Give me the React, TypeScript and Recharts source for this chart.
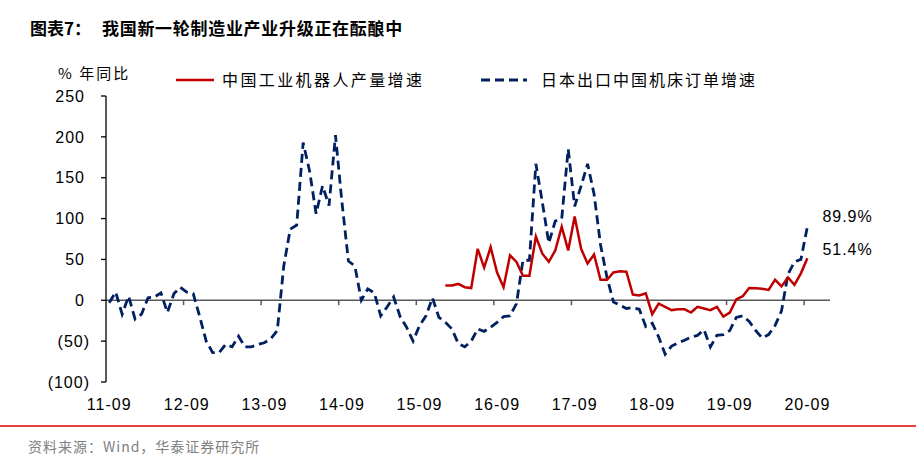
import React from 'react';
import { LineChart, Line, XAxis, YAxis, ReferenceLine, Legend } from 'recharts';

const MONTHS: string[] = [
  '2011-09', '2011-10', '2011-11', '2011-12',
  '2012-01', '2012-02', '2012-03', '2012-04', '2012-05', '2012-06', '2012-07', '2012-08', '2012-09', '2012-10', '2012-11', '2012-12',
  '2013-01', '2013-02', '2013-03', '2013-04', '2013-05', '2013-06', '2013-07', '2013-08', '2013-09', '2013-10', '2013-11', '2013-12',
  '2014-01', '2014-02', '2014-03', '2014-04', '2014-05', '2014-06', '2014-07', '2014-08', '2014-09', '2014-10', '2014-11', '2014-12',
  '2015-01', '2015-02', '2015-03', '2015-04', '2015-05', '2015-06', '2015-07', '2015-08', '2015-09', '2015-10', '2015-11', '2015-12',
  '2016-01', '2016-02', '2016-03', '2016-04', '2016-05', '2016-06', '2016-07', '2016-08', '2016-09', '2016-10', '2016-11', '2016-12',
  '2017-01', '2017-02', '2017-03', '2017-04', '2017-05', '2017-06', '2017-07', '2017-08', '2017-09', '2017-10', '2017-11', '2017-12',
  '2018-01', '2018-02', '2018-03', '2018-04', '2018-05', '2018-06', '2018-07', '2018-08', '2018-09', '2018-10', '2018-11', '2018-12',
  '2019-01', '2019-02', '2019-03', '2019-04', '2019-05', '2019-06', '2019-07', '2019-08', '2019-09', '2019-10', '2019-11', '2019-12',
  '2020-01', '2020-02', '2020-03', '2020-04', '2020-05', '2020-06', '2020-07', '2020-08', '2020-09', '2020-10', '2020-11', '2020-12',
];

// 中国工业机器人产量增速 (% YoY), from 2016-01
const ROBOT_OUTPUT_YOY: (number | null)[] = [
  null, null, null, null, null, null, null, null, null, null, null, null, null, null, null, null,
  null, null, null, null, null, null, null, null, null, null, null, null, null, null, null, null,
  null, null, null, null, null, null, null, null, null, null, null, null, null, null, null, null,
  null, null, null, null,
  18, 18, 20, 16, 15, 63, 40, 65, 34, 16, 55, 47,
  30, 30, 78, 57, 47, 61, 90, 61, 102.5, 63, 45, 56,
  25, 25, 34, 35.5, 35, 7, 6, 8.6, -17, -4, -8, -12,
  -11, -11, -15, -8, -10, -12, -8, -20, -15, 1, 5, 15,
  14.7, 14, 12.7, 25, 17, 28, 19, 33, 51.4,
  null, null, null,
];

// 日本出口中国机床订单增速 (% YoY), from 2011-09
const JP_TOOL_ORDERS_YOY: (number | null)[] = [
  -3, 10, -17, 5,
  -23, -17, 3, 4, 9, -15, 8, 16, 10, 8, -20, -50,
  -64, -64, -54, -57, -44, -57, -57, -54, -52, -47, -37, 42,
  87, 92, 193, 158, 106, 140, 116, 202, 120, 48, 42, 0,
  14, 9, -19, -8, 4, -20, -33, -50, -31, -19, 3, -21,
  -27, -35, -53, -57, -50, -35, -38, -33, -27, -20, -19, -4,
  49, 49, 167, 120, 70, 97, 100, 185, 115, 140, 167, 130,
  68, 28, -2, -6, -10, -9, -11, -32, -28, -45, -66, -56,
  -52, -49, -45, -43, -36, -57, -43, -42, -37, -21, -19, -26,
  -37, -46, -42, -31, -13, 32, 47, 50, 89.9,
  null, null, null,
];

const TICK_MONTHS: string[] = ['2011-09', '2012-09', '2013-09', '2014-09', '2015-09', '2016-09', '2017-09', '2018-09', '2019-09', '2020-09'];
const Y_TICKS: number[] = [-100, -50, 0, 50, 100, 150, 200, 250];

const SERIES_NAMES = { robot: '中国工业机器人产量增速', jp: '日本出口中国机床订单增速' };
const TITLE_PREFIX = '图表7：';
const TITLE = '我国新一轮制造业产业升级正在酝酿中';
const UNIT = '% 年同比';
const SOURCE = '资料来源：Wind，华泰证券研究所';

const RED = '#C00000';
const NAVY = '#002060';
const NUM_FONT = '"Liberation Sans", Arial, sans-serif';
const CJK_FONT = '"Noto Sans CJK SC", "Noto Sans", sans-serif';

const data = MONTHS.map((m, i) => ({ i, month: m, robot: ROBOT_OUTPUT_YOY[i], jp: JP_TOOL_ORDERS_YOY[i] }));
const tickIdx = TICK_MONTHS.map((m) => MONTHS.indexOf(m));
const boundaryTicks = tickIdx.filter((t) => t > 0).map((t) => t - 0.5);
const LAST = ROBOT_OUTPUT_YOY.reduce((acc: number, v, i) => (v != null ? i : acc), 0);

const YTick = (props: any) => {
  const { x, y, payload } = props;
  const v = payload.value as number;
  const s = v < 0 ? `(${Math.abs(v)})` : `${v}`;
  return (
    <text x={x + (v < 0 ? 5 : 0)} y={y} dy="0.36em" textAnchor="end" fontFamily={NUM_FONT} fontSize={16} letterSpacing={1} fill="#000">
      {s}
    </text>
  );
};

const XTick = (props: any) => {
  const { x, y, payload } = props;
  const label = MONTHS[payload.value].slice(2);
  return (
    <text x={x} y={y} dy="0.71em" textAnchor="middle" fontFamily={NUM_FONT} fontSize={16} letterSpacing={1} fill="#000">
      {label}
    </text>
  );
};

const makeEndLabel = (dy: number) => (props: any) => {
  const { x, y, index, value } = props;
  if (index !== LAST || value == null) return <g />;
  return (
    <text x={x + 15} y={y + dy} dy="0.36em" textAnchor="start" fontFamily={NUM_FONT} fontSize={16} letterSpacing={1} fill="#000">
      {`${value}%`}
    </text>
  );
};

const renderLegend = () => (
  <svg width={640} height={26} style={{ display: 'block' }}>
    <line x1={6} y1={12} x2={44} y2={12} stroke={RED} strokeWidth={2.5} />
    <text x={52} y={12} dy="0.36em" fontFamily={CJK_FONT} fontSize={16} letterSpacing={2.4} fill="#000">
      {SERIES_NAMES.robot}
    </text>
    <line x1={311} y1={12} x2={357} y2={12} stroke={NAVY} strokeWidth={2.8} strokeDasharray="9 5" />
    <text x={371} y={12} dy="0.36em" fontFamily={CJK_FONT} fontSize={16} letterSpacing={2} fill="#000">
      {SERIES_NAMES.jp}
    </text>
  </svg>
);

export default function App() {
  return (
    <div style={{ position: 'absolute', left: 0, top: 0, width: 916, height: 464, background: '#fff', overflow: 'hidden' }}>
      <svg width={916} height={464} style={{ position: 'absolute', left: 0, top: 0 }}>
        <text x={30} y={35} fontFamily={CJK_FONT} fontWeight={700} fontSize={17} fill="#000">{TITLE_PREFIX}</text>
        <text x={102} y={35} fontFamily={CJK_FONT} fontWeight={700} fontSize={17} letterSpacing={0.7} fill="#000">{TITLE}</text>
        <text x={58} y={79} fontFamily={CJK_FONT} fontSize={15} letterSpacing={2} fill="#000">{UNIT}</text>
        <line x1={0} y1={426} x2={916} y2={426} stroke="#E00000" strokeWidth={1.5} />
        <text x={28} y={452} fontFamily={CJK_FONT} fontSize={14} letterSpacing={1} fill="#808080">{SOURCE}</text>
      </svg>
      <div style={{ position: 'absolute', left: 0, top: 0 }}>
        <LineChart width={916} height={464} data={data} margin={{ top: 96, right: 86, bottom: 52, left: 6 }}>
          <XAxis
            type="number"
            dataKey="i"
            domain={[-0.5, 111.5]}
            ticks={tickIdx}
            interval={0}
            axisLine={false}
            tickLine={false}
            tickSize={0}
            tickMargin={17}
            height={30}
            tick={<XTick />}
          />
          <YAxis
            type="number"
            domain={[-100, 250]}
            ticks={Y_TICKS}
            interval={0}
            width={100}
            axisLine={{ stroke: '#000', strokeWidth: 1.3 }}
            tickLine={{ stroke: '#000', strokeWidth: 1.3 }}
            tickSize={5}
            tickMargin={16}
            tick={<YTick />}
          />
          <ReferenceLine y={0} stroke="#595959" strokeWidth={1.5} />
          {boundaryTicks.map((t) => (
            <ReferenceLine
              key={t}
              segment={[{ x: t, y: 0 }, { x: t, y: -6 }]}
              stroke="#595959"
              strokeWidth={1.5}
            />
          ))}
          <Legend
            verticalAlign="middle"
            align="center"
            layout="horizontal"
            content={renderLegend}
            wrapperStyle={{ top: 68, left: 170, width: 640, height: 26 }}
          />
          <Line
            type="linear"
            dataKey="jp"
            name={SERIES_NAMES.jp}
            stroke={NAVY}
            strokeWidth={2.8}
            strokeDasharray="9 5"
            dot={false}
            activeDot={false}
            connectNulls={false}
            isAnimationActive={false}
            label={makeEndLabel(-11)}
          />
          <Line
            type="linear"
            dataKey="robot"
            name={SERIES_NAMES.robot}
            stroke={RED}
            strokeWidth={2.5}
            dot={false}
            activeDot={false}
            connectNulls={false}
            isAnimationActive={false}
            label={makeEndLabel(-9)}
          />
        </LineChart>
      </div>
    </div>
  );
}
